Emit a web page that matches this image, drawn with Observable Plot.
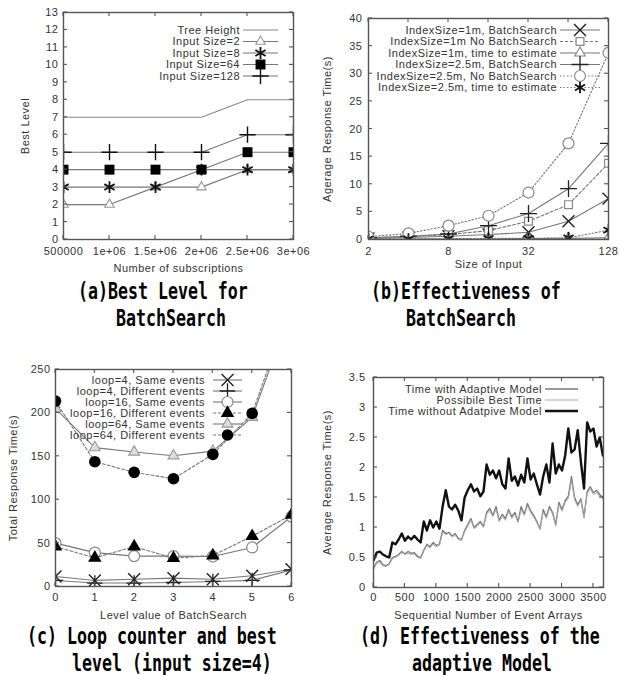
<!DOCTYPE html>
<html><head><meta charset="utf-8">
<script src="https://cdn.jsdelivr.net/npm/d3@7"></script>
<script src="https://cdn.jsdelivr.net/npm/@observablehq/plot@0.6"></script>
<style>
body{margin:0;background:#fff;}
#root{position:relative;width:620px;height:675px;overflow:hidden;background:#fff;}
.panel{position:absolute;}
.cap{position:absolute;font-family:"DejaVu Sans Mono",monospace;font-weight:bold;font-size:16.6px;line-height:17px;height:17px;white-space:pre;transform-origin:0 50%;transform:scaleY(1.35);color:#000;z-index:5;}
</style></head><body><div id="root"></div>
<script>
// ---------- (a) Best Level for BatchSearch ----------
const subscriptions = [500000, 1000000, 1500000, 2000000, 2500000, 3000000];
const subscriptionTickLabels = ["500000", "1e+06", "1.5e+06", "2e+06", "2.5e+06", "3e+06"];
const bestLevelTicks = [0,1,2,3,4,5,6,7,8,9,10,11,12,13];
const treeHeight   = [7, 7, 7, 7, 8, 8];
const inputSize2   = [2, 2, 3, 3, 4, 4];
const inputSize8   = [3, 3, 3, 4, 4, 4];
const inputSize64  = [4, 4, 4, 4, 5, 5];
const inputSize128 = [5, 5, 5, 5, 6, 6];

// ---------- (b) Effectiveness of BatchSearch ----------
const inputSizes = [2, 4, 8, 16, 32, 64, 128];
const inputSizeTicks = [2, 8, 32, 128];
const responseTicksB = [0, 5, 10, 15, 20, 25, 30, 35, 40];
const idx1mBatch       = [0.2, 0.35, 0.6, 0.9, 1.3, 3.3, 7.4];
const idx1mNoBatch     = [0.3, 0.5, 0.9, 1.6, 3.3, 6.3, 13.8];
const idx1mEstimate    = [0.05, 0.05, 0.08, 0.1, 0.15, 0.2, 0.3];
const idx25mBatch      = [0.3, 0.6, 1.0, 2.5, 4.7, 9.2, 17.4];
const idx25mNoBatch    = [0.5, 1.1, 2.5, 4.3, 8.5, 17.4, 33.8];
const idx25mEstimate   = [0.1, 0.1, 0.15, 0.2, 0.2, 0.3, 1.7];

// ---------- (c) Loop counter and best level ----------
const batchLevels = [0, 1, 2, 3, 4, 5, 6];
const totalTicks = [0, 50, 100, 150, 200, 250];
const loop4Same   = [11.5, 7, 8.4, 9.6, 8.4, 12.3, 20];
const loop4Diff   = [7, 4, 4, 4.6, 5.8, 7, 19];
const loop16Same  = [50, 39, 35, 35, 34.5, 45, 80.5];
const loop16Diff  = [46, 33, 46, 32.6, 35.7, 58, 82.4];
const loop64Same  = [205, 160, 155, 150.7, 156, 195, 320];
const loop64Diff  = [213.6, 143.8, 131.5, 124.2, 152.2, 199.4, 328];

// ---------- (d) Effectiveness of the adaptive model ----------
const eventArrayIndex = d3.range(0, 3700, 50);
const eventTicks = [0, 500, 1000, 1500, 2000, 2500, 3000, 3500];
const avgTicksD = [0, 0.5, 1, 1.5, 2, 2.5, 3, 3.5];
const timeWithoutAdaptive = [0.45,0.58,0.6,0.55,0.52,0.5,0.75,0.72,0.8,0.9,0.78,0.85,0.8,0.86,0.8,0.75,1.1,0.95,1.12,1.0,1.1,0.98,1.35,1.62,1.35,1.3,1.38,1.28,1.12,1.5,1.62,1.72,1.6,1.65,1.52,1.6,2.05,1.88,1.95,1.82,1.95,1.72,1.65,2.15,1.78,1.85,1.7,1.88,1.75,2.15,1.8,1.9,1.72,1.55,1.85,2.05,1.75,2.4,1.9,2.05,1.95,2.2,2.65,2.25,2.3,2.62,2.1,1.65,2.75,2.6,2.65,2.35,2.5,2.2];
const timeWithAdaptive = [0.32,0.42,0.45,0.38,0.36,0.4,0.5,0.52,0.55,0.6,0.56,0.6,0.57,0.58,0.52,0.5,0.62,0.72,0.68,0.75,0.7,0.73,0.95,0.9,0.92,0.86,0.9,0.82,0.8,0.95,1.05,1.15,1.0,1.05,1.1,1.02,1.25,1.32,1.2,1.35,1.12,1.22,1.15,1.3,1.18,1.25,1.1,1.35,1.22,1.4,1.28,1.2,1.1,0.98,1.3,1.18,1.35,1.25,1.05,1.42,1.3,1.45,1.52,1.85,1.5,1.38,1.48,1.18,1.6,1.68,1.58,1.62,1.55,1.5];
const possibleBestTime = [0.3,0.4,0.42,0.36,0.35,0.38,0.48,0.5,0.53,0.58,0.55,0.57,0.55,0.56,0.5,0.48,0.6,0.7,0.66,0.72,0.68,0.7,0.92,0.88,0.9,0.84,0.87,0.8,0.78,0.93,1.02,1.12,0.98,1.02,1.07,1.0,1.22,1.28,1.18,1.3,1.1,1.18,1.12,1.27,1.15,1.22,1.08,1.3,1.2,1.36,1.25,1.17,1.08,0.96,1.26,1.15,1.32,1.22,1.02,1.38,1.27,1.42,1.48,1.78,1.46,1.35,1.45,1.15,1.56,1.64,1.55,1.58,1.52,1.47];

// ---------- helpers ----------
const TXT = "#333";
const LINE = "#777";
const FRAME = "#555";
const TICK = 4;
const SYM = {times: d3.symbolTimes, plus: d3.symbolPlus, asterisk: d3.symbolAsterisk,
  triangle: d3.symbolTriangle, triangle2: d3.symbolTriangle2, square: d3.symbolSquare,
  square2: d3.symbolSquare2, circle: d3.symbolCircle};

function makePanel(c) {
  const ml = c.margin[3], mt = c.margin[0], mr = c.margin[1], mb = c.margin[2];
  const marks = [];
  for (const s of c.series) {
    const rows = c.xs.map((x, i) => ({x, y: s.values[i]}));
    marks.push(Plot.line(rows, {x: "x", y: "y", stroke: s.stroke ?? LINE, strokeWidth: s.lw ?? 1.1,
      strokeDasharray: s.dash, clip: true}));
    if (s.symbol) marks.push(Plot.dot(rows, {x: "x", y: "y", symbol: s.symbol, r: s.r,
      fill: s.fill ?? "none", stroke: s.symStroke ?? "none", strokeWidth: s.sw ?? 1.2, clip: true}));
  }
  const xMarks = c.xTickMarks ?? c.xTicks;
  marks.push(
    Plot.frame({stroke: FRAME, strokeWidth: 1.4}),
    Plot.axisX(c.xTicks, {anchor: "bottom", tickSize: 0, tickPadding: c.xPad, label: null,
      tickFormat: c.xFmt, fill: TXT}),
    Plot.axisY(c.yTicks, {anchor: "left", tickSize: 0, tickPadding: c.yPad, label: null,
      tickFormat: c.yFmt, fill: TXT}),
    Plot.text([c.xLabel], {text: d => d, frameAnchor: "bottom", lineAnchor: "middle", textAnchor: "middle",
      dy: c.xLabelDy, fill: TXT}),
    Plot.text([c.yLabel], {text: d => d, frameAnchor: "left", textAnchor: "middle", lineAnchor: "middle",
      dx: c.yLabelDx, rotate: -90, fill: TXT})
  );
  const svg = Plot.plot({
    width: c.W, height: c.H,
    marginLeft: ml, marginTop: mt, marginRight: mr, marginBottom: mb,
    style: {fontFamily: "Liberation Sans", fontSize: "11px", letterSpacing: "0.5px", color: TXT,
      background: "transparent", overflow: "visible"},
    x: c.xScale, y: c.yScale,
    marks
  });
  const fr = c.W - mr, fb = c.H - mb;
  // gnuplot-style inward ticks on all four sides, positioned through Plot's own scales
  const sx = svg.scale("x"), sy = svg.scale("y");
  const tg = d3.select(svg).append("g").attr("stroke", FRAME).attr("stroke-width", 1.1);
  for (const v of xMarks) {
    const X = sx.apply(v);
    tg.append("line").attr("x1", X).attr("x2", X).attr("y1", fb).attr("y2", fb - TICK);
    tg.append("line").attr("x1", X).attr("x2", X).attr("y1", mt).attr("y2", mt + TICK);
  }
  for (const v of c.yTicks) {
    const Y = sy.apply(v);
    tg.append("line").attr("x1", ml).attr("x2", ml + TICK).attr("y1", Y).attr("y2", Y);
    tg.append("line").attr("x1", fr).attr("x2", fr - TICK).attr("y1", Y).attr("y2", Y);
  }
  // legend (gnuplot style key, inside the frame, top-right)
  const g = d3.select(svg).append("g").attr("font-family", "Liberation Sans").attr("font-size", 11)
    .attr("letter-spacing", "0.5px").attr("fill", TXT);
  c.legend.entries.forEach((e, i) => {
    const s = c.series.find(d => d.label === e) ?? {};
    const y = mt + c.legend.y0 + i * c.legend.step;
    const x1 = fr - c.legend.s1, x2 = fr - c.legend.s2;
    g.append("text").attr("x", fr - c.legend.t).attr("y", y).attr("dy", "0.35em").attr("text-anchor", "end").text(e);
    g.append("line").attr("x1", x1).attr("x2", x2).attr("y1", y).attr("y2", y)
      .attr("stroke", s.stroke ?? LINE).attr("stroke-width", s.lw ?? 1.1).attr("stroke-dasharray", s.dash ?? null);
    if (s.symbol) g.append("path").attr("transform", `translate(${(x1 + x2) / 2},${y})`)
      .attr("d", d3.symbol(SYM[s.symbol], s.r * s.r * Math.PI)())
      .attr("fill", s.fill ?? "none").attr("stroke", s.symStroke ?? "none").attr("stroke-width", s.sw ?? 1.2);
  });
  const div = document.createElement("div");
  div.className = "panel";
  div.style.left = c.left + "px"; div.style.top = c.top + "px";
  div.style.width = c.W + "px"; div.style.height = c.H + "px";
  div.appendChild(svg);
  document.getElementById("root").appendChild(div);
}

function caption(text, left, cy) {
  const d = document.createElement("div");
  d.className = "cap";
  d.textContent = text;
  d.style.left = left + "px";
  d.style.top = (cy - 8.5) + "px";
  document.getElementById("root").appendChild(d);
}

// ---------- panel (a) ----------
const aLabels = ["Tree Height", "Input Size=2", "Input Size=8", "Input Size=64", "Input Size=128"];
makePanel({
  left: 0, top: 0, W: 310, H: 285, margin: [12, 17, 46, 63],
  xs: subscriptions,
  xScale: {type: "linear", domain: [subscriptions[0], subscriptions[subscriptions.length - 1]]},
  yScale: {domain: [0, 13]},
  xTicks: subscriptions, yTicks: bestLevelTicks,
  xFmt: d => subscriptionTickLabels[subscriptions.indexOf(d)], yFmt: d => String(d),
  xPad: 8, yPad: 5,
  xLabel: "Number of subscriptions", xLabelDy: 29,
  yLabel: "Best Level", yLabelDx: -38,
  series: [
    {label: aLabels[0], values: treeHeight, stroke: "#888"},
    {label: aLabels[1], values: inputSize2, symbol: "triangle2", r: 4.5, fill: "#fff", symStroke: "#999", sw: 1.1},
    {label: aLabels[2], values: inputSize8, symbol: "asterisk", r: 5.6, symStroke: "#111", sw: 1.8},
    {label: aLabels[3], values: inputSize64, symbol: "square", r: 5.6, fill: "#000"},
    {label: aLabels[4], values: inputSize128, symbol: "plus", r: 5.3, symStroke: "#111", sw: 1.4}
  ],
  legend: {entries: aLabels, y0: 18, step: 11.5, t: 53, s1: 50, s2: 15}
});

// ---------- panel (b) ----------
const bLabels = ["IndexSize=1m, BatchSearch", "IndexSize=1m No BatchSearch", "IndexSize=1m, time to estimate",
  "IndexSize=2.5m, BatchSearch", "IndexSize=2.5m, No BatchSearch", "IndexSize=2.5m, time to estimate"];
makePanel({
  left: 310, top: 0, W: 310, H: 285, margin: [18, 12, 46, 58],
  xs: inputSizes,
  xScale: {type: "log", base: 2, domain: [inputSizes[0], inputSizes[inputSizes.length - 1]]},
  yScale: {domain: [0, 40]},
  xTicks: inputSizeTicks, xTickMarks: inputSizes, yTicks: responseTicksB,
  xFmt: d => String(d), yFmt: d => String(d),
  xPad: 8, yPad: 6,
  xLabel: "Size of Input", xLabelDy: 25,
  yLabel: "Agerage Response Time(s)", yLabelDx: -41,
  series: [
    {label: bLabels[0], values: idx1mBatch, symbol: "times", r: 5.5, symStroke: "#222", sw: 1.4},
    {label: bLabels[1], values: idx1mNoBatch, dash: "3,2", symbol: "square2", r: 5, fill: "#fff", symStroke: "#888", sw: 1.2},
    {label: bLabels[2], values: idx1mEstimate, symbol: "triangle2", r: 5, fill: "#fff", symStroke: "#888", sw: 1.1},
    {label: bLabels[3], values: idx25mBatch, symbol: "plus", r: 5.5, symStroke: "#222", sw: 1.3},
    {label: bLabels[4], values: idx25mNoBatch, dash: "1.5,2", symbol: "circle", r: 5.5, fill: "#fff", symStroke: "#888", sw: 1.2},
    {label: bLabels[5], values: idx25mEstimate, dash: "1.5,2", symbol: "asterisk", r: 5.5, symStroke: "#111", sw: 1.8}
  ],
  legend: {entries: bLabels, y0: 12, step: 11.5, t: 51, s1: 48, s2: 8}
});

// ---------- panel (c) ----------
const cLabels = ["loop=4, Same events", "loop=4, Different events", "loop=16, Same events",
  "loop=16, Different events", "loop=64, Same events", "loop=64, Different events"];
makePanel({
  left: 0, top: 330, W: 310, H: 300, margin: [39, 19, 44, 55],
  xs: batchLevels,
  xScale: {domain: [0, 6]}, yScale: {domain: [0, 250]},
  xTicks: batchLevels, yTicks: totalTicks,
  xFmt: d => String(d), yFmt: d => String(d),
  xPad: 6.5, yPad: 5,
  xLabel: "Level value of BatchSearch", xLabelDy: 29,
  yLabel: "Total Response Time(s)", yLabelDx: -42,
  series: [
    {label: cLabels[0], values: loop4Same, symbol: "times", r: 5.5, symStroke: "#222", sw: 1.4},
    {label: cLabels[1], values: loop4Diff, symbol: "plus", r: 5, symStroke: "#222", sw: 1.3},
    {label: cLabels[2], values: loop16Same, symbol: "circle", r: 5.5, fill: "#fff", symStroke: "#888", sw: 1.2},
    {label: cLabels[3], values: loop16Diff, dash: "3,2", symbol: "triangle", r: 5, fill: "#000"},
    {label: cLabels[4], values: loop64Same, symbol: "triangle2", r: 5.2, fill: "#ddd", symStroke: "#999", sw: 1.1},
    {label: cLabels[5], values: loop64Diff, dash: "3,2", symbol: "circle", r: 5.8, fill: "#000"}
  ],
  legend: {entries: cLabels, y0: 11, step: 11, t: 86, s1: 78, s2: 49}
});

// ---------- panel (d) ----------
const dLabels = ["Time with Adaptive Model", "Possibile Best Time", "Time without Adatpive Model"];
makePanel({
  left: 310, top: 330, W: 310, H: 300, margin: [47, 17, 43, 63],
  xs: eventArrayIndex,
  xScale: {domain: [0, 3660]}, yScale: {domain: [0, 3.5]},
  xTicks: eventTicks, yTicks: avgTicksD,
  xFmt: d => String(d), yFmt: d => String(d),
  xPad: 6, yPad: 8,
  xLabel: "Sequential Number of Event Arrays", xLabelDy: 28,
  yLabel: "Average Response Time(s)", yLabelDx: -46,
  series: [
    {label: dLabels[2], values: timeWithoutAdaptive, stroke: "#111", lw: 2.4},
    {label: dLabels[0], values: timeWithAdaptive, stroke: "#777", lw: 1.3},
    {label: dLabels[1], values: possibleBestTime, stroke: "#aaa", lw: 1}
  ],
  legend: {entries: dLabels, y0: 12, step: 11, t: 61, s1: 58, s2: 25}
});

// ---------- captions ----------
caption("(a)Best Level for", 78, 291);
caption("BatchSearch", 116, 318);
caption("(b)Effectiveness of", 371, 291);
caption("BatchSearch", 406, 318);
caption("(c) Loop counter and best", 27, 636);
caption("level (input size=4)", 72, 663);
caption("(d) Effectiveness of the", 360, 636);
caption("adaptive Model", 412, 663);
</script></body></html>
